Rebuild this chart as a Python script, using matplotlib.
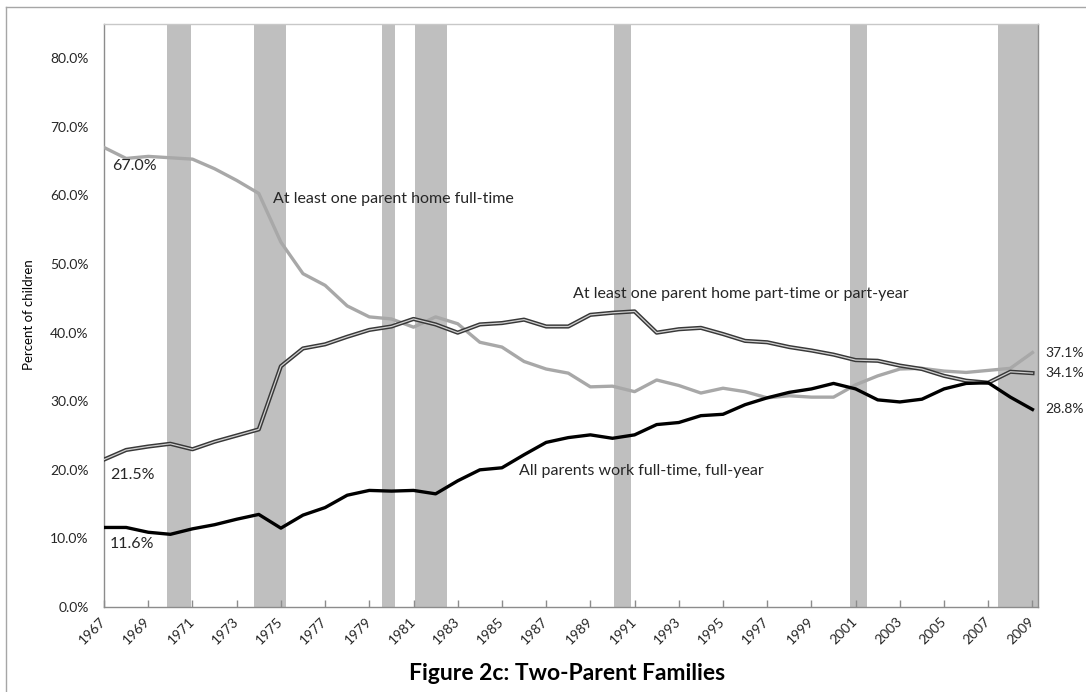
"""Share of children in two-parent families by parental work status, 1967-2009.

Three series on a percent axis with recession periods shaded in gray,
styled after an Excel chart (thin gray frame, labels written on the plot).
"""

import matplotlib.pyplot as plt
from matplotlib.lines import Line2D
from matplotlib.ticker import FuncFormatter

plt.rcParams["font.family"] = ["Lato", "DejaVu Sans"]

years = list(range(1967, 2010))

# At least one parent home full-time (light gray line)
home_full_time = [
    67.0, 65.4, 65.7, 65.5, 65.3, 63.9, 62.2, 60.3, 53.2, 48.6,
    46.9, 43.9, 42.3, 42.0, 40.8, 42.3, 41.3, 38.6, 37.9, 35.8,
    34.7, 34.1, 32.1, 32.2, 31.4, 33.1, 32.3, 31.2, 31.9, 31.4,
    30.5, 30.8, 30.6, 30.6, 32.4, 33.7, 34.7, 34.8, 34.4, 34.2,
    34.5, 34.8, 37.1,
]

# At least one parent home part-time or part-year (double line)
home_part_time = [
    21.5, 22.9, 23.4, 23.8, 23.0, 24.1, 25.0, 25.9, 35.1, 37.7,
    38.3, 39.4, 40.4, 40.9, 42.0, 41.2, 40.0, 41.2, 41.4, 41.9,
    40.9, 40.9, 42.6, 42.9, 43.1, 40.0, 40.5, 40.7, 39.8, 38.8,
    38.6, 37.9, 37.4, 36.8, 36.0, 35.9, 35.2, 34.7, 33.7, 33.0,
    32.7, 34.3, 34.1,
]

# All parents work full-time, full-year (black line)
all_full_year = [
    11.6, 11.6, 10.9, 10.6, 11.4, 12.0, 12.8, 13.5, 11.5, 13.4,
    14.5, 16.3, 17.0, 16.9, 17.0, 16.5, 18.4, 20.0, 20.3, 22.2,
    24.0, 24.7, 25.1, 24.6, 25.1, 26.6, 26.9, 27.9, 28.1, 29.5,
    30.5, 31.3, 31.8, 32.6, 31.8, 30.2, 29.9, 30.3, 31.8, 32.6,
    32.7, 30.6, 28.8,
]

# Recession periods (start, end) in fractional years
recession_start = [1969.86, 1973.78, 1979.56, 1981.05, 1990.05, 2000.73, 2007.45]
recession_end = [1970.95, 1975.24, 1980.16, 1982.50, 1990.85, 2001.53, 2009.25]

x_ticks = list(range(1967, 2010, 2))
y_ticks = list(range(0, 81, 10))

fig = plt.figure(figsize=(10.86, 6.92), dpi=100)
ax = fig.add_axes([0.0958, 0.1228, 0.86, 0.8425])

# ---- Recession shading ----
for start, end in zip(recession_start, recession_end):
    ax.axvspan(start, end, color="#bfbfbf", lw=0, zorder=1)

# ---- Series ----
ax.plot(years, home_full_time, color="#a8a8a8", lw=2.4, zorder=3,
        solid_joinstyle="round")
# double line: dark outer stroke with a light core
ax.plot(years, home_part_time, color="#383838", lw=3.0, zorder=4,
        solid_joinstyle="round")
ax.plot(years, home_part_time, color="#d0d0d0", lw=0.9, zorder=5,
        solid_joinstyle="round")
ax.plot(years, all_full_year, color="#000000", lw=2.4, zorder=6,
        solid_joinstyle="round")

ax.set_xlim(1967, 2009.25)
ax.set_ylim(0, 85)

# ---- Axes styling ----
for side in ["left", "right", "top", "bottom"]:
    ax.spines[side].set_color("#8c8c8c")
    ax.spines[side].set_linewidth(1.0)
ax.spines["top"].set_color("#c8c8c8")

ax.set_yticks(y_ticks)
ax.yaxis.set_major_formatter(FuncFormatter(lambda v, _: f"{v:.1f}%"))
ax.tick_params(axis="y", length=0, pad=11, labelsize=10, labelcolor="#262626")

ax.set_xticks(x_ticks)
ax.set_xticklabels([str(y) for y in x_ticks], rotation=45, ha="right",
                   va="center", rotation_mode="anchor")
ax.tick_params(axis="x", direction="in", length=5, width=1, color="#8c8c8c",
               pad=9, labelsize=10, labelcolor="#262626")

# ---- Labels written on the plot ----
note = dict(fontsize=11.5, color="#262626", va="center", ha="left", zorder=8)
ax.text(1967.37, 64.3, "67.0%", **note)
ax.text(1967.27, 19.2, "21.5%", **note)
ax.text(1967.27, 9.2, "11.6%", **note)
ax.text(1974.66, 59.45, "At least one parent home full-time", **note)
ax.text(1988.2, 45.6, "At least one parent home part-time or part-year", **note)
ax.text(1985.79, 19.86, "All parents work full-time, full-year", **note)

# end-of-series values sit just outside the right edge
end_note = dict(note, fontsize=10, clip_on=False)
ax.text(2009.6, 36.97, "37.1%", **end_note)
ax.text(2009.6, 34.05, "34.1%", **end_note)
ax.text(2009.6, 28.8, "28.8%", **end_note)

fig.text(29 / 1086, 1 - 315 / 692, "Percent of children", rotation=90,
         ha="center", va="center", fontsize=9.5, color="#000000")
fig.text(567 / 1086, 1 - 673 / 692, "Figure 2c: Two-Parent Families",
         ha="center", va="center", fontsize=16.5, fontweight="bold",
         color="#000000")

# Outer chart frame (only left and top edges fall inside the picture)
fx, fy = 6 / 1086, 1 - 7 / 692
fig.add_artist(Line2D([fx, fx], [0, fy], color="#a6a6a6", lw=1.0))
fig.add_artist(Line2D([fx, 1], [fy, fy], color="#a6a6a6", lw=1.0))

fig.savefig("out.png", dpi=100)
